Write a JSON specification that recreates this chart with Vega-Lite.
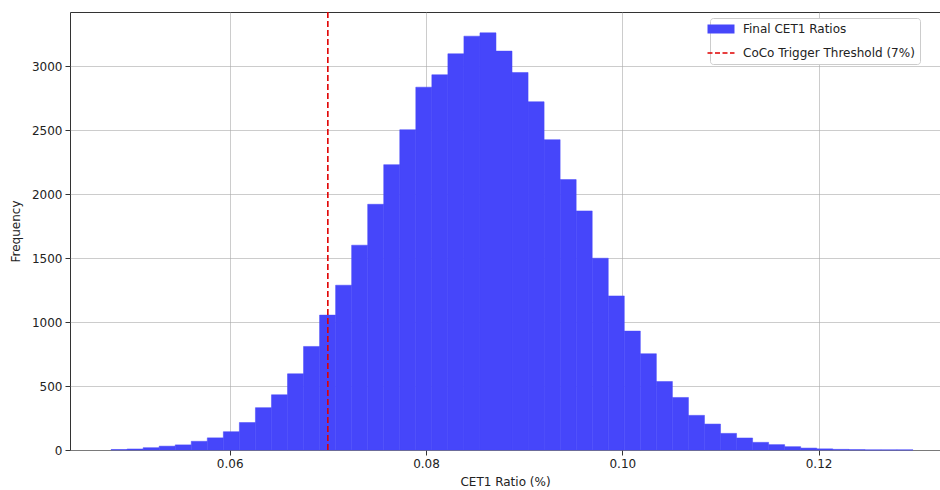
{
  "$schema": "https://vega.github.io/schema/vega-lite/v6.json",
  "width": 870,
  "height": 438,
  "autosize": {"type": "none"},
  "padding": {"left": 70, "top": 12, "right": 0, "bottom": 40},
  "background": "white",
  "config": {
    "view": {"stroke": "#333333", "strokeWidth": 1},
    "font": "DejaVu Sans",
    "axis": {
      "labelFont": "DejaVu Sans",
      "labelFontSize": 12,
      "labelColor": "#222222",
      "titleFont": "DejaVu Sans",
      "titleFontSize": 12,
      "titleFontWeight": "normal",
      "titleColor": "#222222",
      "tickColor": "#333333",
      "tickSize": 5,
      "labelPadding": 3,
      "domain": false,
      "grid": true,
      "gridColor": "#aaaaaa",
      "gridOpacity": 0.6,
      "gridWidth": 1,
      "zindex": 1
    }
  },
  "datasets": {
    "bins": [
      {"bin_start": 0.047916, "bin_end": 0.049550, "count": 4},
      {"bin_start": 0.049550, "bin_end": 0.051184, "count": 8},
      {"bin_start": 0.051184, "bin_end": 0.052818, "count": 18},
      {"bin_start": 0.052818, "bin_end": 0.054452, "count": 30},
      {"bin_start": 0.054452, "bin_end": 0.056086, "count": 40},
      {"bin_start": 0.056086, "bin_end": 0.057720, "count": 68},
      {"bin_start": 0.057720, "bin_end": 0.059354, "count": 95},
      {"bin_start": 0.059354, "bin_end": 0.060988, "count": 143},
      {"bin_start": 0.060988, "bin_end": 0.062622, "count": 215},
      {"bin_start": 0.062622, "bin_end": 0.064256, "count": 331},
      {"bin_start": 0.064256, "bin_end": 0.065890, "count": 432},
      {"bin_start": 0.065890, "bin_end": 0.067524, "count": 596},
      {"bin_start": 0.067524, "bin_end": 0.069158, "count": 810},
      {"bin_start": 0.069158, "bin_end": 0.070792, "count": 1055},
      {"bin_start": 0.070792, "bin_end": 0.072426, "count": 1289},
      {"bin_start": 0.072426, "bin_end": 0.074060, "count": 1602},
      {"bin_start": 0.074060, "bin_end": 0.075694, "count": 1922},
      {"bin_start": 0.075694, "bin_end": 0.077328, "count": 2232},
      {"bin_start": 0.077328, "bin_end": 0.078962, "count": 2505},
      {"bin_start": 0.078962, "bin_end": 0.080596, "count": 2838},
      {"bin_start": 0.080596, "bin_end": 0.082230, "count": 2935},
      {"bin_start": 0.082230, "bin_end": 0.083864, "count": 3099},
      {"bin_start": 0.083864, "bin_end": 0.085498, "count": 3237},
      {"bin_start": 0.085498, "bin_end": 0.087132, "count": 3263},
      {"bin_start": 0.087132, "bin_end": 0.088766, "count": 3120},
      {"bin_start": 0.088766, "bin_end": 0.090400, "count": 2953},
      {"bin_start": 0.090400, "bin_end": 0.092034, "count": 2724},
      {"bin_start": 0.092034, "bin_end": 0.093668, "count": 2427},
      {"bin_start": 0.093668, "bin_end": 0.095302, "count": 2115},
      {"bin_start": 0.095302, "bin_end": 0.096936, "count": 1870},
      {"bin_start": 0.096936, "bin_end": 0.098570, "count": 1500},
      {"bin_start": 0.098570, "bin_end": 0.100204, "count": 1205},
      {"bin_start": 0.100204, "bin_end": 0.101838, "count": 930},
      {"bin_start": 0.101838, "bin_end": 0.103472, "count": 753},
      {"bin_start": 0.103472, "bin_end": 0.105106, "count": 536},
      {"bin_start": 0.105106, "bin_end": 0.106740, "count": 411},
      {"bin_start": 0.106740, "bin_end": 0.108374, "count": 271},
      {"bin_start": 0.108374, "bin_end": 0.110008, "count": 203},
      {"bin_start": 0.110008, "bin_end": 0.111642, "count": 130},
      {"bin_start": 0.111642, "bin_end": 0.113276, "count": 94},
      {"bin_start": 0.113276, "bin_end": 0.114910, "count": 60},
      {"bin_start": 0.114910, "bin_end": 0.116544, "count": 42},
      {"bin_start": 0.116544, "bin_end": 0.118178, "count": 26},
      {"bin_start": 0.118178, "bin_end": 0.119812, "count": 15},
      {"bin_start": 0.119812, "bin_end": 0.121446, "count": 9},
      {"bin_start": 0.121446, "bin_end": 0.123080, "count": 5},
      {"bin_start": 0.123080, "bin_end": 0.124714, "count": 3},
      {"bin_start": 0.124714, "bin_end": 0.126348, "count": 1},
      {"bin_start": 0.126348, "bin_end": 0.127982, "count": 1},
      {"bin_start": 0.127982, "bin_end": 0.129616, "count": 1}
    ],
    "threshold": [
      {"value": 0.07}
    ]
  },
  "layer": [
    {
      "data": {"name": "bins"},
      "mark": {"type": "bar", "fill": "#4646fa", "strokeWidth": 0.5, "fillOpacity": 1},
      "encoding": {
        "x": {
          "field": "bin_start",
          "type": "quantitative",
          "scale": {"domain": [0.04373, 0.13237], "nice": false, "zero": false},
          "axis": {"values": [0.06, 0.08, 0.10, 0.12], "format": ".2f", "title": "CET1 Ratio (%)", "titlePadding": 7}
        },
        "x2": {"field": "bin_end"},
        "y": {
          "field": "count",
          "type": "quantitative",
          "scale": {"domain": [0, 3426], "nice": false},
          "axis": {"values": [0, 500, 1000, 1500, 2000, 2500, 3000], "format": "d", "title": "Frequency", "titlePadding": 9}
        },
        "y2": {"datum": 0},
        "stroke": {
          "datum": "Final CET1 Ratios",
          "scale": {
            "domain": ["Final CET1 Ratios", "CoCo Trigger Threshold (7%)"],
            "range": ["#4646fa", "#e00000"]
          },
          "legend": {
            "title": null,
            "orient": "none",
            "legendX": 640,
            "legendY": 6,
            "strokeColor": "#cccccc",
            "fillColor": "white",
            "cornerRadius": 3,
            "padding": 5,
            "rowPadding": -14,
            "labelFont": "DejaVu Sans",
            "labelFontSize": 12,
            "labelColor": "#222222",
            "labelLimit": 400,
            "labelOffset": 16,
            "symbolType": "stroke",
            "symbolSize": 729,
            "symbolOpacity": 1,
            "encode": {
              "symbols": {
                "update": {
                  "strokeDash": {"signal": "datum.value === 'Final CET1 Ratios' ? [1, 0] : [5, 2.5]"},
                  "strokeWidth": {"signal": "datum.value === 'Final CET1 Ratios' ? 9 : 1.6"}
                }
              }
            }
          }
        }
      }
    },
    {
      "data": {"name": "threshold"},
      "mark": {"type": "rule", "strokeDash": [6, 3], "strokeWidth": 1.6},
      "encoding": {
        "x": {"field": "value", "type": "quantitative"},
        "stroke": {
          "datum": "CoCo Trigger Threshold (7%)",
          "legend": {
            "title": null,
            "orient": "none",
            "legendX": 640,
            "legendY": 6,
            "strokeColor": "#cccccc",
            "fillColor": "white",
            "cornerRadius": 3,
            "padding": 5,
            "rowPadding": -14,
            "labelFont": "DejaVu Sans",
            "labelFontSize": 12,
            "labelColor": "#222222",
            "labelLimit": 400,
            "labelOffset": 16,
            "symbolType": "stroke",
            "symbolSize": 729,
            "symbolOpacity": 1,
            "encode": {
              "symbols": {
                "update": {
                  "strokeDash": {"signal": "datum.value === 'Final CET1 Ratios' ? [1, 0] : [5, 2.5]"},
                  "strokeWidth": {"signal": "datum.value === 'Final CET1 Ratios' ? 9 : 1.6"}
                }
              }
            }
          }
        }
      }
    }
  ]
}
